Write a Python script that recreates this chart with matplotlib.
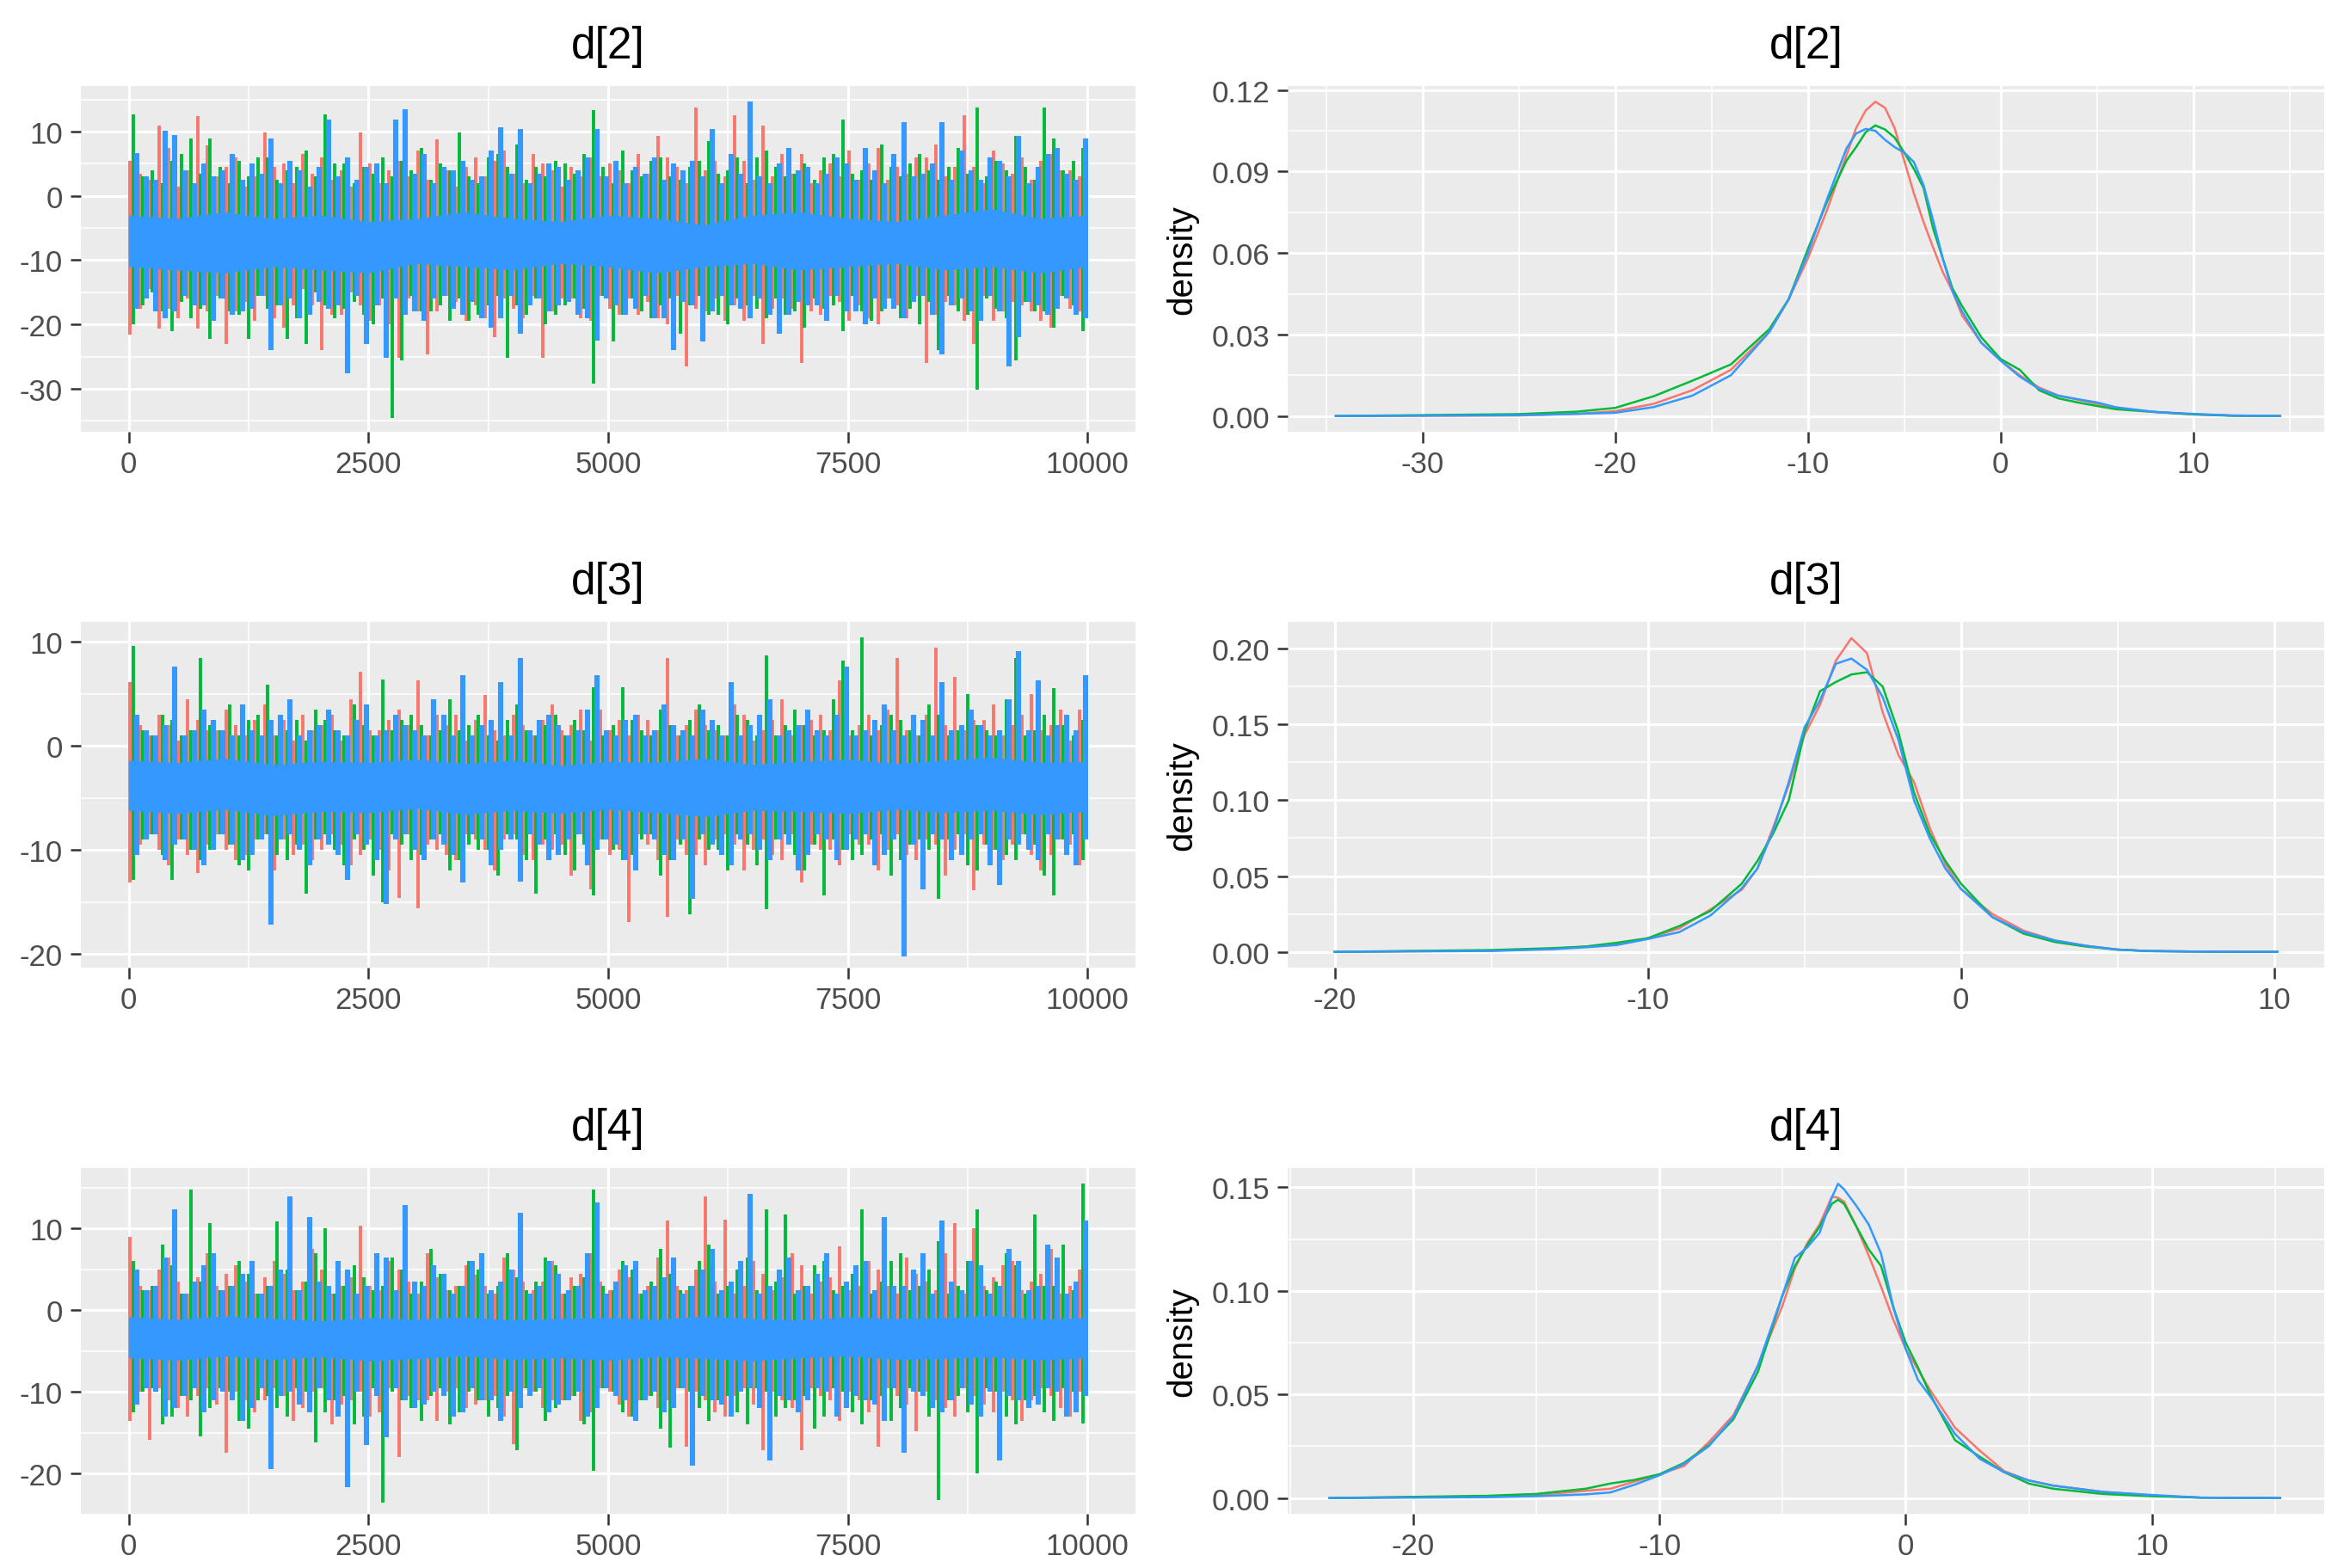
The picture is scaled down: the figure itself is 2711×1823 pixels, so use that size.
import numpy as np
import matplotlib
matplotlib.use('Agg')
import matplotlib.pyplot as plt
from matplotlib.ticker import MultipleLocator, FormatStrFormatter

plt.rcParams['font.family'] = ['Liberation Sans', 'DejaVu Sans']

# ---------------- data ----------------
params = ['d[2]', 'd[3]', 'd[4]']
chains = ['1', '2', '3']
chain_colors = ['#F8766D', '#00BA38', '#3399FF']
n_iter = 10000

# trace plots: per chain, the local high and low of each block of 100 iterations
trace_hi = {
    'd[2]': {
        '1': [5.4, 3.5, 2.5, 11.0, 7.4, 1.5, 4.0, 12.4, 7.9, 3.0, 4.5, 6.0, 1.5, 3.0, 9.9, 4.5, 5.0, 2.0, 6.5, 3.5, 6.0, 2.5, 4.0, 1.5, 9.9, 5.0, 2.0, 4.0, 5.5, 3.0, 7.0, 2.5, 8.8, 4.0, 1.5, 4.5, 6.0, 3.0, 5.5, 7.0, 3.5, 2.0, 6.5, 5.0, 4.0, 1.5, 4.5, 3.0, 6.0, 3.0, 5.0, 4.0, 2.0, 6.5, 3.5, 9.4, 6.0, 4.5, 2.0, 13.8, 4.0, 5.5, 3.0, 12.6, 5.5, 2.5, 11.0, 3.0, 6.5, 3.5, 6.5, 2.0, 4.0, 5.0, 3.0, 7.0, 2.5, 5.0, 7.5, 2.5, 4.5, 3.5, 6.0, 6.0, 8.0, 3.0, 4.5, 12.6, 4.5, 2.0, 7.0, 5.0, 3.5, 6.0, 2.5, 5.5, 6.5, 4.0, 4.0, 3.0],
        '2': [12.7, 3.0, 4.0, 2.0, 5.5, 6.5, 9.0, 3.5, 9.0, 4.5, 2.0, 5.5, 3.0, 6.0, 6.0, 2.5, 4.0, 4.5, 7.0, 3.0, 12.7, 5.0, 5.0, 2.0, 4.5, 3.5, 6.0, 3.0, 5.5, 4.0, 7.5, 2.5, 5.0, 4.0, 9.9, 3.0, 2.0, 6.0, 6.5, 4.5, 8.0, 2.5, 4.5, 3.0, 5.5, 5.0, 3.5, 6.5, 13.3, 4.5, 2.0, 7.0, 4.0, 3.0, 5.5, 6.0, 3.0, 2.5, 4.5, 5.5, 8.5, 3.5, 4.0, 6.0, 2.0, 6.0, 7.0, 4.5, 3.0, 3.5, 5.0, 2.5, 6.0, 6.5, 11.9, 3.5, 4.0, 2.5, 8.0, 4.5, 3.0, 5.0, 6.5, 4.0, 2.5, 4.5, 7.5, 3.5, 13.8, 3.0, 5.5, 4.0, 9.4, 4.5, 2.5, 13.8, 9.0, 4.0, 5.5, 7.5],
        '3': [6.6, 3.0, 2.5, 10.2, 9.5, 4.0, 2.0, 5.0, 3.0, 4.0, 6.5, 2.5, 5.0, 3.5, 9.0, 2.0, 5.5, 4.0, 1.5, 4.5, 11.9, 3.0, 6.0, 2.5, 4.5, 5.0, 2.0, 11.9, 13.5, 3.5, 6.5, 2.0, 4.5, 4.0, 5.5, 2.5, 3.0, 7.0, 10.7, 3.5, 10.4, 2.0, 3.5, 5.0, 4.5, 2.5, 4.0, 6.0, 10.4, 3.0, 5.5, 2.0, 4.5, 3.5, 6.0, 2.5, 5.0, 4.0, 5.5, 3.0, 10.4, 2.0, 6.5, 3.5, 14.7, 3.0, 2.0, 5.0, 7.5, 4.0, 4.5, 2.0, 3.5, 6.0, 5.0, 2.5, 7.5, 4.0, 2.0, 6.5, 11.5, 3.0, 3.5, 5.0, 11.5, 2.5, 7.0, 4.0, 2.5, 6.0, 5.5, 3.0, 9.4, 2.0, 4.5, 6.5, 7.5, 3.5, 2.5, 9.0],
    },
    'd[3]': {
        '1': [6.1, 2.0, 1.0, 3.0, 2.0, 0.5, 4.5, 2.5, 1.5, 1.5, 3.5, 2.0, 1.0, 2.5, 4.0, 1.0, 2.5, 0.5, 3.0, 1.5, 2.0, 3.0, 0.5, 4.5, 7.1, 1.5, 1.5, 2.5, 3.5, 2.0, 6.3, 1.0, 3.0, 2.0, 3.0, 0.5, 2.5, 4.9, 1.5, 1.0, 3.0, 2.0, 1.0, 2.5, 4.0, 1.5, 2.0, 3.5, 0.5, 3.5, 1.5, 2.5, 1.0, 3.0, 2.5, 1.5, 8.4, 1.0, 2.0, 3.5, 2.0, 1.5, 1.0, 4.0, 3.0, 0.5, 1.5, 2.5, 4.5, 1.0, 2.0, 2.5, 3.0, 1.5, 6.3, 1.0, 2.0, 3.0, 1.5, 3.5, 8.4, 1.5, 1.0, 3.0, 9.4, 2.0, 6.6, 1.5, 2.5, 2.5, 4.0, 1.0, 2.0, 3.0, 5.0, 1.5, 2.0, 3.5, 0.5, 3.5],
        '2': [9.6, 1.5, 1.0, 3.0, 2.5, 1.0, 1.5, 8.4, 2.0, 1.5, 4.0, 1.0, 2.5, 3.0, 5.9, 1.0, 1.5, 2.5, 0.5, 3.5, 2.5, 1.5, 1.0, 4.0, 2.0, 1.0, 6.4, 1.5, 2.5, 3.0, 2.0, 1.0, 1.5, 4.5, 1.5, 2.0, 3.0, 1.0, 0.5, 2.5, 4.0, 1.5, 1.0, 2.0, 3.0, 1.0, 2.5, 1.5, 5.6, 1.0, 2.0, 5.6, 2.5, 1.5, 1.0, 3.5, 2.0, 1.0, 2.5, 4.0, 1.5, 2.0, 1.0, 3.0, 2.5, 1.0, 8.7, 1.0, 2.0, 3.5, 2.0, 1.0, 1.5, 4.5, 8.2, 1.5, 10.4, 1.0, 2.0, 3.0, 2.5, 1.5, 1.0, 4.0, 3.0, 1.0, 1.5, 5.0, 2.0, 1.5, 1.0, 4.5, 8.4, 1.0, 1.5, 3.0, 5.5, 2.0, 1.0, 2.5],
        '3': [3.0, 1.5, 1.0, 2.0, 7.6, 1.0, 1.5, 3.5, 2.5, 1.5, 1.0, 4.0, 1.5, 1.0, 2.5, 3.0, 4.5, 1.0, 1.5, 2.0, 3.5, 1.5, 1.0, 2.5, 4.0, 1.0, 1.5, 3.0, 2.0, 1.5, 1.0, 4.5, 3.0, 1.0, 6.8, 1.0, 2.0, 2.5, 6.1, 1.0, 8.4, 1.5, 2.5, 3.0, 2.0, 1.0, 1.5, 3.5, 6.8, 1.5, 1.0, 2.5, 3.0, 1.0, 1.5, 4.0, 2.0, 1.5, 1.0, 3.5, 2.5, 1.0, 6.1, 1.0, 2.0, 3.0, 4.5, 1.0, 1.5, 2.0, 3.5, 1.5, 1.0, 3.0, 7.6, 1.0, 1.5, 2.5, 4.0, 1.5, 1.0, 3.0, 2.5, 1.0, 6.1, 1.5, 2.0, 3.5, 2.0, 1.0, 1.5, 4.5, 9.1, 1.5, 6.3, 1.0, 2.0, 3.0, 1.5, 6.8],
    },
    'd[4]': {
        '1': [9.0, 3.0, 2.5, 5.0, 6.5, 3.5, 2.0, 4.0, 7.0, 3.0, 4.5, 5.5, 3.5, 2.0, 4.0, 6.0, 4.5, 2.5, 3.5, 7.5, 5.0, 2.0, 3.0, 4.0, 10.4, 3.0, 2.5, 6.0, 5.0, 3.5, 2.0, 7.0, 4.0, 2.5, 3.0, 5.5, 4.4, 3.0, 2.0, 6.5, 5.0, 3.5, 2.5, 3.5, 6.0, 2.0, 4.0, 4.5, 7.0, 3.5, 2.5, 5.0, 4.0, 2.0, 3.0, 6.5, 11.0, 3.0, 2.5, 5.0, 13.9, 3.5, 11.1, 2.0, 3.0, 6.0, 4.5, 2.5, 4.0, 7.0, 5.5, 2.0, 3.5, 4.0, 7.8, 2.5, 3.0, 6.0, 5.0, 3.0, 2.0, 6.5, 4.5, 3.5, 2.5, 7.0, 10.7, 2.0, 10.0, 3.0, 4.0, 5.5, 6.0, 2.5, 3.5, 4.5, 7.5, 2.0, 3.0, 5.0],
        '2': [6.0, 2.5, 3.0, 8.0, 5.5, 2.0, 14.8, 3.5, 10.7, 2.5, 3.0, 6.0, 4.5, 2.0, 3.0, 10.9, 5.0, 2.5, 3.5, 7.0, 10.0, 2.0, 3.0, 5.5, 4.0, 2.5, 3.0, 6.5, 5.0, 2.0, 3.5, 7.5, 4.5, 2.5, 3.0, 6.0, 5.0, 2.0, 3.0, 7.0, 4.0, 2.5, 3.5, 6.5, 5.5, 2.0, 3.0, 4.0, 14.8, 3.0, 2.5, 6.0, 5.0, 2.0, 3.5, 7.5, 4.5, 2.5, 3.0, 6.0, 8.0, 2.0, 3.0, 5.0, 6.5, 2.5, 12.3, 3.5, 11.7, 2.0, 3.0, 5.5, 6.0, 2.5, 3.0, 4.5, 12.3, 2.0, 3.5, 6.0, 7.0, 2.5, 3.0, 5.0, 8.5, 2.0, 3.0, 6.0, 12.3, 2.5, 3.5, 7.0, 5.5, 2.0, 11.7, 3.0, 3.0, 8.0, 2.5, 15.5],
        '3': [5.0, 2.5, 3.0, 6.5, 12.3, 2.0, 3.5, 5.5, 7.0, 2.5, 3.0, 4.5, 6.0, 2.0, 3.0, 5.0, 13.9, 2.5, 11.4, 3.5, 3.0, 6.0, 5.0, 2.0, 3.0, 7.0, 6.5, 2.5, 12.9, 3.5, 3.0, 5.5, 4.5, 2.0, 3.0, 6.0, 7.0, 2.5, 3.5, 5.0, 11.9, 2.0, 3.0, 6.0, 4.5, 2.5, 3.0, 7.0, 13.2, 2.0, 3.5, 5.5, 6.0, 2.5, 3.0, 4.0, 6.5, 2.0, 3.0, 5.0, 7.5, 2.5, 3.5, 6.0, 14.2, 2.0, 3.0, 5.0, 6.5, 2.5, 3.0, 4.5, 7.0, 2.0, 3.5, 5.5, 6.0, 2.5, 11.4, 3.0, 3.0, 5.0, 7.0, 2.0, 11.0, 3.5, 2.5, 6.0, 5.5, 2.0, 3.0, 7.5, 6.0, 2.5, 3.0, 8.0, 6.5, 2.0, 3.5, 11.0],
    },
}
trace_lo = {
    'd[2]': {
        '1': [-21.6, -17.5, -14.5, -20.7, -17.5, -19.0, -16.0, -20.7, -18.0, -15.5, -23.1, -18.0, -16.5, -19.5, -15.5, -19.0, -20.5, -17.0, -14.5, -17.0, -24.0, -18.5, -18.5, -15.0, -17.0, -19.5, -17.0, -20.0, -25.2, -16.0, -18.0, -24.7, -18.0, -15.5, -16.5, -19.5, -17.0, -19.0, -22.0, -16.0, -17.5, -19.0, -15.5, -25.2, -18.0, -16.0, -16.0, -19.0, -19.5, -15.5, -17.5, -18.5, -16.0, -18.5, -16.5, -19.0, -20.0, -15.5, -26.5, -17.5, -18.0, -16.0, -19.5, -17.0, -19.5, -15.5, -23.0, -17.5, -16.0, -17.5, -26.0, -18.0, -18.5, -15.5, -16.5, -19.5, -17.0, -19.0, -20.0, -16.0, -17.0, -19.0, -15.5, -26.0, -18.5, -16.5, -17.0, -19.5, -23.0, -15.5, -19.5, -18.0, -16.5, -17.0, -18.0, -19.5, -20.5, -15.5, -17.5, -18.0],
        '2': [-20.0, -17.0, -15.0, -18.0, -21.0, -16.5, -19.0, -17.5, -22.2, -16.0, -18.0, -18.5, -22.2, -15.5, -17.5, -17.0, -22.2, -19.0, -23.1, -15.0, -17.0, -19.0, -17.5, -16.5, -18.5, -20.0, -16.0, -34.5, -25.6, -15.5, -18.0, -18.0, -17.0, -19.5, -16.0, -19.5, -18.5, -17.0, -15.5, -25.2, -17.0, -18.5, -16.0, -20.0, -18.5, -17.0, -16.0, -17.5, -29.2, -15.5, -22.7, -18.5, -16.0, -18.0, -19.0, -17.0, -16.0, -21.5, -17.0, -15.5, -18.5, -18.5, -20.0, -16.0, -17.0, -17.5, -19.0, -16.0, -18.5, -18.0, -20.5, -16.0, -17.5, -17.0, -21.0, -15.5, -18.0, -19.5, -18.0, -16.0, -19.0, -17.5, -20.0, -16.5, -24.0, -15.5, -18.0, -18.5, -30.1, -16.0, -17.5, -19.0, -25.6, -16.5, -18.0, -18.0, -20.5, -15.5, -17.0, -21.0],
        '3': [-17.5, -16.0, -18.0, -19.0, -18.0, -15.5, -17.0, -17.0, -19.5, -16.0, -18.5, -18.0, -17.5, -15.5, -24.0, -17.0, -16.0, -19.0, -18.5, -16.5, -17.5, -17.0, -27.6, -15.5, -23.0, -17.0, -25.2, -16.0, -18.5, -18.0, -19.5, -16.0, -15.5, -17.5, -18.5, -16.5, -19.0, -20.5, -19.0, -15.5, -21.5, -17.0, -16.0, -18.0, -17.0, -16.5, -18.5, -19.0, -22.5, -16.0, -17.0, -18.5, -17.5, -15.5, -19.0, -19.0, -24.0, -16.5, -17.0, -22.7, -18.0, -15.5, -17.0, -17.5, -19.0, -16.0, -18.5, -21.5, -18.5, -16.5, -17.0, -17.0, -19.5, -15.5, -18.0, -18.0, -20.0, -16.0, -17.5, -17.5, -19.0, -16.5, -15.5, -18.5, -24.7, -17.0, -16.0, -18.0, -19.5, -15.5, -18.0, -26.5, -22.0, -16.5, -17.0, -18.5, -17.5, -16.0, -18.5, -19.0],
    },
    'd[3]': {
        '1': [-13.1, -9.5, -8.5, -10.0, -11.5, -9.0, -10.5, -12.2, -9.5, -8.5, -10.0, -11.0, -10.5, -9.0, -8.5, -12.0, -9.0, -10.5, -9.5, -11.0, -10.0, -8.5, -9.5, -11.5, -10.5, -9.0, -10.0, -12.0, -14.6, -8.5, -15.6, -9.5, -10.0, -10.5, -11.0, -8.5, -9.0, -10.0, -12.0, -9.0, -8.5, -10.5, -11.0, -9.5, -10.0, -9.5, -12.5, -8.5, -13.8, -9.0, -10.5, -10.0, -16.9, -8.5, -9.5, -11.0, -16.4, -9.0, -10.5, -10.5, -11.5, -9.0, -8.5, -9.5, -12.0, -10.0, -9.0, -10.5, -11.0, -8.5, -13.1, -9.5, -10.0, -10.0, -11.5, -8.5, -9.5, -9.5, -12.0, -10.0, -8.5, -10.5, -11.0, -9.0, -9.5, -12.5, -10.0, -8.5, -13.9, -9.5, -10.0, -11.0, -9.5, -8.5, -10.5, -12.0, -10.5, -9.0, -9.5, -11.5],
        '2': [-12.9, -9.0, -8.5, -10.5, -12.9, -9.0, -10.0, -11.0, -10.0, -8.5, -9.5, -11.5, -12.0, -9.0, -8.5, -10.5, -11.0, -9.5, -14.2, -9.0, -8.5, -10.0, -11.5, -9.0, -10.0, -12.5, -15.0, -8.5, -9.5, -11.0, -10.5, -9.0, -8.5, -12.0, -11.0, -9.5, -10.0, -10.0, -12.5, -8.5, -9.0, -11.0, -14.2, -9.0, -8.5, -10.5, -12.0, -9.5, -14.4, -9.0, -10.0, -11.0, -10.5, -9.0, -8.5, -12.5, -11.0, -9.5, -16.2, -9.0, -10.0, -10.0, -12.0, -8.5, -9.5, -11.5, -15.7, -9.0, -8.5, -10.5, -12.0, -9.5, -14.4, -9.0, -10.0, -11.0, -10.5, -9.0, -8.5, -12.5, -11.0, -9.5, -9.0, -10.0, -14.7, -9.0, -8.5, -11.5, -12.0, -9.5, -10.0, -10.5, -11.0, -8.5, -9.5, -12.5, -14.4, -9.0, -8.5, -11.0],
        '3': [-10.5, -9.0, -8.5, -11.0, -9.5, -9.0, -10.0, -11.5, -10.0, -8.5, -9.5, -11.0, -10.5, -9.0, -17.2, -9.0, -8.5, -10.0, -11.5, -9.0, -9.5, -10.5, -12.9, -8.5, -9.5, -11.0, -15.2, -9.0, -8.5, -10.0, -11.0, -9.0, -9.5, -10.5, -13.1, -8.5, -9.0, -11.5, -10.0, -9.0, -13.0, -8.5, -9.5, -11.0, -10.5, -9.0, -8.5, -11.5, -10.0, -9.0, -9.5, -11.0, -12.0, -8.5, -9.0, -10.5, -11.0, -9.0, -14.7, -8.5, -9.5, -10.5, -11.5, -9.0, -8.5, -10.0, -11.0, -9.0, -9.5, -12.0, -10.5, -8.5, -9.0, -11.0, -10.0, -9.0, -8.5, -11.5, -10.5, -9.0, -20.2, -9.5, -13.8, -8.5, -9.0, -11.0, -10.5, -9.0, -8.5, -11.5, -13.4, -9.0, -9.5, -10.0, -11.0, -8.5, -9.0, -10.5, -11.5, -9.0],
    },
    'd[4]': {
        '1': [-13.5, -10.0, -15.8, -9.5, -11.0, -12.0, -13.0, -10.5, -9.5, -11.5, -17.4, -10.0, -11.0, -12.5, -11.0, -9.5, -10.5, -13.5, -12.0, -10.0, -9.5, -14.0, -11.5, -11.0, -10.0, -13.0, -12.5, -9.5, -18.0, -10.5, -11.0, -11.0, -13.5, -10.0, -9.5, -12.0, -11.5, -11.0, -10.5, -13.0, -16.4, -9.5, -10.0, -12.0, -11.0, -11.0, -10.5, -13.5, -12.5, -9.5, -10.0, -11.5, -13.0, -11.0, -10.5, -12.0, -11.0, -9.5, -16.7, -10.0, -11.0, -12.5, -13.0, -10.5, -9.5, -11.5, -17.1, -10.0, -11.0, -12.0, -17.1, -9.5, -10.5, -11.0, -13.5, -10.0, -11.0, -12.5, -16.7, -9.5, -10.5, -11.5, -14.8, -10.0, -11.0, -12.0, -13.0, -9.5, -10.5, -11.5, -12.5, -10.0, -11.0, -13.5, -11.0, -9.5, -10.5, -12.0, -13.0, -10.0],
        '2': [-12.5, -10.0, -9.5, -14.0, -13.0, -10.5, -11.0, -15.4, -12.0, -9.5, -10.0, -13.5, -14.5, -11.0, -10.5, -12.0, -13.0, -9.5, -10.0, -16.2, -12.5, -11.0, -10.5, -14.0, -13.0, -9.5, -23.5, -10.0, -11.0, -12.0, -13.5, -10.5, -9.5, -14.0, -12.5, -10.0, -11.0, -13.0, -12.0, -10.5, -17.1, -9.5, -10.0, -13.5, -12.0, -11.0, -10.5, -14.0, -19.6, -9.5, -10.0, -12.5, -13.0, -11.0, -10.5, -14.5, -16.8, -9.5, -10.0, -12.0, -13.5, -11.0, -10.5, -12.5, -14.0, -9.5, -10.0, -13.0, -12.0, -11.0, -10.5, -14.5, -13.0, -9.5, -10.0, -12.5, -14.0, -11.0, -10.5, -13.5, -12.0, -9.5, -10.0, -13.0, -23.2, -11.0, -10.5, -12.5, -20.0, -9.5, -10.0, -13.0, -14.0, -11.0, -10.5, -12.5, -13.5, -9.5, -10.0, -13.9],
        '3': [-11.5, -9.5, -10.0, -13.0, -12.0, -10.5, -9.5, -12.5, -11.0, -10.0, -11.0, -13.5, -12.0, -9.5, -19.4, -10.5, -10.0, -11.5, -12.5, -9.5, -11.0, -13.0, -21.6, -10.0, -16.5, -10.5, -15.5, -9.5, -11.0, -12.0, -11.5, -10.0, -10.5, -13.0, -12.5, -9.5, -11.0, -11.0, -13.5, -10.0, -12.0, -10.5, -9.5, -12.5, -11.5, -11.0, -10.0, -13.0, -12.0, -9.5, -10.5, -11.0, -13.5, -11.0, -10.0, -12.5, -12.0, -9.5, -19.0, -10.5, -11.0, -11.5, -13.0, -10.0, -9.5, -12.0, -18.4, -10.5, -11.0, -12.5, -11.0, -9.5, -10.0, -13.0, -12.0, -10.5, -11.0, -11.5, -13.5, -9.5, -17.4, -10.0, -10.5, -12.0, -12.5, -11.0, -9.5, -11.5, -13.0, -10.0, -18.4, -10.5, -11.0, -12.0, -11.5, -9.5, -10.0, -13.0, -12.5, -10.5],
    },
}
# dense central band of chain 3 (21 readings across the run)
core_hi = {
    'd[2]': [-3.0, -3.5, -2.5, -3.5, -3.0, -4.0, -3.5, -2.5, -3.5, -4.0, -3.0, -3.5, -4.5, -3.0, -2.5, -3.5, -4.0, -3.0, -2.0, -3.5, -3.0],
    'd[3]': [-1.4, -1.6, -1.2, -1.8, -1.5, -1.6, -1.3, -1.7, -1.4, -1.9, -1.5, -1.6, -1.2, -1.8, -1.5, -1.3, -1.7, -1.4, -1.1, -1.6, -1.5],
    'd[4]': [-0.8, -1.1, -0.7, -1.0, -1.3, -0.9, -1.1, -0.8, -1.2, -1.0, -0.9, -1.1, -0.7, -1.0, -1.2, -0.8, -1.0, -0.9, -0.6, -1.1, -0.9],
}
core_lo = {
    'd[2]': [-11.0, -11.5, -12.0, -11.0, -11.5, -12.0, -10.5, -11.0, -11.5, -10.5, -11.0, -12.0, -11.0, -10.5, -11.5, -11.0, -10.5, -11.5, -11.0, -12.0, -11.0],
    'd[3]': [-6.2, -6.5, -6.1, -6.7, -6.3, -6.4, -6.0, -6.6, -6.2, -6.5, -6.1, -6.4, -6.8, -6.2, -6.3, -6.5, -6.1, -6.4, -6.2, -6.6, -6.3],
    'd[4]': [-5.8, -6.1, -5.6, -6.0, -5.7, -6.2, -5.9, -5.6, -6.0, -5.8, -6.1, -5.7, -5.9, -6.2, -5.8, -5.6, -6.0, -5.9, -5.7, -6.1, -5.8],
}

# density plots
dens_x = {
    'd[2]': [-34.5, -25, -22, -20, -18, -16, -14, -12, -11, -10, -9, -8, -7.5, -7, -6.5, -6, -5.5, -5, -4.5, -4, -3.5, -3, -2.5, -2, -1, 0, 1, 2, 3, 4, 5, 6, 8, 10, 12, 14.5],
    'd[3]': [-20, -15, -13, -12, -11, -10, -9, -8, -7, -6.5, -6, -5.5, -5, -4.5, -4, -3.5, -3, -2.5, -2, -1.5, -1, -0.5, 0, 1, 2, 3, 4, 5, 6, 8, 10.1],
    'd[4]': [-23.4, -17, -15, -13, -12, -11, -10, -9, -8, -7, -6, -5, -4.5, -4, -3.5, -3, -2.75, -2.5, -2, -1.5, -1, -0.5, 0, 0.5, 1, 2, 3, 4, 5, 6, 8, 10, 12, 15.2],
}
dens_y = {
    'd[2]': {
        '1': [0, 0.0002, 0.0008, 0.0018, 0.0045, 0.0095, 0.017, 0.031, 0.043, 0.058, 0.076, 0.096, 0.106, 0.1125, 0.1157, 0.1135, 0.106, 0.094, 0.082, 0.0715, 0.062, 0.053, 0.046, 0.037, 0.027, 0.0205, 0.015, 0.0105, 0.0075, 0.006, 0.0045, 0.003, 0.0015, 0.0006, 0.0002, 0],
        '2': [0, 0.0007, 0.0016, 0.003, 0.0073, 0.013, 0.019, 0.032, 0.043, 0.0615, 0.079, 0.094, 0.099, 0.1045, 0.107, 0.1055, 0.1025, 0.097, 0.091, 0.084, 0.069, 0.058, 0.047, 0.0405, 0.029, 0.021, 0.017, 0.0095, 0.0065, 0.005, 0.0037, 0.0025, 0.0015, 0.0006, 0.0001, 0],
        '3': [0, 0.0003, 0.0008, 0.0012, 0.0033, 0.0075, 0.015, 0.031, 0.043, 0.060, 0.080, 0.0985, 0.104, 0.1057, 0.105, 0.1017, 0.099, 0.097, 0.0935, 0.085, 0.072, 0.058, 0.046, 0.0385, 0.027, 0.0204, 0.0145, 0.010, 0.0075, 0.0062, 0.005, 0.0032, 0.0015, 0.0008, 0.0002, 0],
    },
    'd[3]': {
        '1': [0, 0.0008, 0.002, 0.0035, 0.0048, 0.009, 0.0155, 0.028, 0.041, 0.055, 0.082, 0.11, 0.143, 0.163, 0.192, 0.207, 0.197, 0.158, 0.13, 0.112, 0.082, 0.058, 0.0415, 0.025, 0.014, 0.0075, 0.004, 0.0015, 0.0006, 0.0001, 0],
        '2': [0, 0.0012, 0.0025, 0.0035, 0.006, 0.009, 0.017, 0.027, 0.045, 0.06, 0.078, 0.10, 0.145, 0.172, 0.178, 0.183, 0.1845, 0.175, 0.145, 0.105, 0.078, 0.06, 0.045, 0.023, 0.012, 0.0065, 0.0035, 0.0015, 0.0005, 0.0001, 0],
        '3': [0, 0.0006, 0.0018, 0.003, 0.0045, 0.0085, 0.013, 0.024, 0.042, 0.055, 0.08, 0.112, 0.148, 0.166, 0.19, 0.1935, 0.186, 0.168, 0.14, 0.10, 0.075, 0.055, 0.0415, 0.023, 0.013, 0.0075, 0.004, 0.0015, 0.0005, 0.0001, 0],
    },
    'd[4]': {
        '1': [0, 0.0008, 0.0015, 0.0035, 0.0045, 0.008, 0.0115, 0.0155, 0.027, 0.04, 0.064, 0.093, 0.111, 0.123, 0.132, 0.1455, 0.145, 0.143, 0.131, 0.117, 0.102, 0.086, 0.072, 0.062, 0.052, 0.034, 0.023, 0.013, 0.0085, 0.006, 0.003, 0.0012, 0.0002, 0],
        '2': [0, 0.0011, 0.002, 0.0045, 0.007, 0.0088, 0.0115, 0.017, 0.0255, 0.038, 0.061, 0.098, 0.112, 0.122, 0.131, 0.142, 0.144, 0.142, 0.131, 0.12, 0.112, 0.092, 0.075, 0.063, 0.05, 0.028, 0.02, 0.0125, 0.007, 0.0045, 0.002, 0.0009, 0.0002, 0],
        '3': [0, 0.0004, 0.0009, 0.0018, 0.0027, 0.0065, 0.011, 0.0165, 0.025, 0.039, 0.064, 0.098, 0.116, 0.121, 0.128, 0.145, 0.1517, 0.149, 0.141, 0.132, 0.118, 0.092, 0.072, 0.057, 0.049, 0.031, 0.019, 0.0125, 0.0085, 0.006, 0.003, 0.0015, 0.0002, 0],
    },
}

# axis settings
trace_ylim = {'d[2]': (-36.7, 17.1), 'd[3]': (-21.3, 11.9), 'd[4]': (-24.9, 17.4)}
trace_ystep = {'d[2]': 10, 'd[3]': 10, 'd[4]': 10}
dens_xlim = {'d[2]': (-37.0, 16.8), 'd[3]': (-21.5, 11.6), 'd[4]': (-25.1, 17.0)}
dens_ylim = {'d[2]': (-0.0058, 0.1215), 'd[3]': (-0.0104, 0.2177), 'd[4]': (-0.0076, 0.1593)}
dens_ystep = {'d[2]': 0.03, 'd[3]': 0.05, 'd[4]': 0.05}

# ---------------- drawing ----------------
W, H = 2711, 1824
fig = plt.figure(figsize=(W / 100, H / 100), dpi=100)
fig.patch.set_facecolor('white')

left_x0, left_w = 94 / W, 1226 / W
right_x0, right_w = 1497 / W, 1205 / W
row_bottom = [1 - 503 / H, 1 - 1126 / H, 1 - 1761 / H]
row_h = 402 / H

TICK_FS = 25
TITLE_FS = 37
LABEL_FS = 29
bar_widths = [2.8, 2.8, 4.4]   # last chain is drawn on top, as in the original


def style(ax, xstep, ystep, yfmt):
    ax.set_facecolor('#EBEBEB')
    for s in ax.spines.values():
        s.set_visible(False)
    ax.xaxis.set_major_locator(MultipleLocator(xstep))
    ax.xaxis.set_minor_locator(MultipleLocator(xstep / 2))
    ax.yaxis.set_major_locator(MultipleLocator(ystep))
    ax.yaxis.set_minor_locator(MultipleLocator(ystep / 2))
    ax.yaxis.set_major_formatter(FormatStrFormatter(yfmt))
    ax.xaxis.set_major_formatter(FormatStrFormatter('%d'))
    ax.grid(which='major', color='white', linewidth=2.2)
    ax.grid(which='minor', color='white', linewidth=1.1)
    ax.set_axisbelow(True)
    ax.tick_params(which='major', length=9, width=1.8, color='#333333',
                   labelsize=TICK_FS, labelcolor='#4D4D4D', pad=6)
    ax.tick_params(which='minor', length=0)


core_iters = np.linspace(1, n_iter, 21)

for r, p in enumerate(params):
    # trace: each block's range drawn as a vertical stroke, chains interleaved
    ax = fig.add_axes([left_x0, row_bottom[r], left_w, row_h])
    style(ax, 2500, trace_ystep[p], '%d')
    for k, (c, col) in enumerate(zip(chains, chain_colors)):
        hi = trace_hi[p][c]
        lo = trace_lo[p][c]
        n = min(len(hi), len(lo))
        blk = n_iter / n
        xs = (np.arange(n) + (k + 0.5) / len(chains)) * blk
        ax.vlines(xs, lo[:n], hi[:n], colors=col, linewidth=bar_widths[k],
                  capstyle='butt', zorder=2)
        if c == '3':
            ax.fill_between(core_iters, core_lo[p], core_hi[p], color=col,
                            linewidth=0, zorder=3)
    ax.set_xlim(-499, 10500)
    ax.set_ylim(*trace_ylim[p])
    ax.set_title(p, fontsize=TITLE_FS, pad=24, color='black')

    # density
    ax2 = fig.add_axes([right_x0, row_bottom[r], right_w, row_h])
    style(ax2, 10, dens_ystep[p], '%.2f')
    for c, col in zip(chains, chain_colors):
        ax2.plot(dens_x[p], dens_y[p][c], color=col, linewidth=1.8)
    ax2.set_xlim(*dens_xlim[p])
    ax2.set_ylim(*dens_ylim[p])
    ax2.set_title(p, fontsize=TITLE_FS, pad=24, color='black')
    ax2.set_ylabel('density', fontsize=LABEL_FS, color='black')
    ax2.yaxis.set_label_coords(-0.0863, 0.5)

fig.savefig('out.png', dpi=100, facecolor='white')
